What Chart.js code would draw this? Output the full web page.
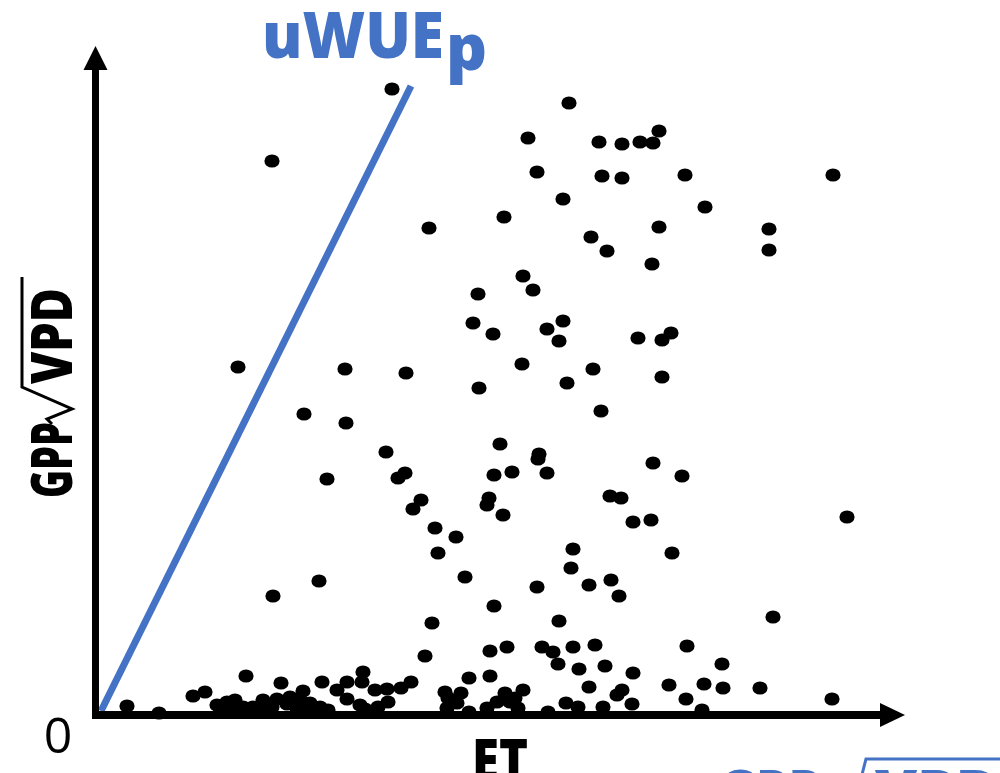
<!DOCTYPE html>
<html lang="en">
<head>
<meta charset="UTF-8">
<title>uWUEp</title>
<script src="https://cdn.jsdelivr.net/npm/chart.js@4.4.0/dist/chart.umd.min.js"></script>
<style>
    body { margin: 0; background: #fff; }
    canvas { display: block; }
</style>
</head>
<body>
<canvas id="chartUwue" width="1000" height="773"></canvas>

<script>
    // ET (x) and GPP*sqrt(VPD) (y), arbitrary units
    const etValues = [
        29.6, 47.3, 43.2, 50.3, 52.6, 54.4, 55.7, 56.3, 17.6, 44.1,
        50.6, 52.6, 58.9, 73.7, 46.7, 60.9, 40.8, 33.3, 49.5, 56.3,
        67.3, 51.1, 67.3, 55.6, 42.7, 38.2, 43.7, 37.7, 39.7, 45.1,
        46.7, 46.3, 54.2, 57.5, 56.6, 14.2, 24.9, 31.0, 42.6, 47.1,
        49.7, 56.6, 38.3, 20.8, 25.0, 50.5, 29.0, 40.4, 44.3, 44.2,
        55.7, 30.9, 30.2, 39.8, 41.6, 45.1, 58.6, 23.1, 32.5, 39.3,
        39.1, 51.4, 52.5, 75.1, 31.7, 40.7, 53.7, 55.5, 33.9, 36.0,
        34.2, 47.7, 57.6, 47.5, 36.9, 49.3, 51.5, 52.3, 22.3, 44.1,
        17.7, 39.8, 33.6, 46.3, 67.7, 39.4, 41.1, 44.6, 45.7, 47.7,
        49.9, 59.1, 32.9, 46.2, 48.3, 50.9, 53.7, 62.6, 26.7, 15.0,
        37.3, 39.4, 49.3, 52.6, 52.1, 57.3, 60.8, 62.7, 66.4, 59.0,
        73.6, 40.9, 41.9, 42.7, 47.0, 48.2, 50.7, 53.6, 45.2, 60.6,
        42.2, 40.1, 39.1, 37.3, 34.9, 36.5, 35.2, 36.1, 35.1, 26.6,
        25.1, 24.1, 25.1, 27.9, 29.1, 30.5, 31.5, 22.6, 20.7, 19.4,
        18.5, 10.9, 9.7, 3.1, 6.3, 12.1, 13.1, 13.9, 14.7, 15.7,
        16.7, 17.6, 18.1, 19.1, 20.4, 21.4, 20.1, 22.4, 23.2, 26.4,
        26.9, 28.2, 29.2, 16.7, 41.4, 13.6, 12.5, 15.2, 21.2
    ];
    const gppValues = [
        62.6, 61.2, 57.7, 57.3, 57.1, 57.3, 57.2, 58.4, 55.4, 54.3,
        53.9, 53.7, 54.0, 54.0, 51.6, 50.8, 49.8, 48.7, 47.8, 48.8,
        48.6, 46.4, 46.5, 45.1, 43.9, 42.1, 42.5, 39.2, 38.1, 38.6,
        39.4, 37.4, 37.7, 38.2, 37.5, 34.8, 34.6, 34.2, 35.1, 33.2,
        34.6, 33.8, 32.7, 30.1, 29.2, 30.4, 26.3, 27.1, 26.1, 25.6,
        25.2, 24.2, 23.7, 24.0, 24.3, 24.2, 23.9, 23.6, 21.5, 21.7,
        21.0, 21.9, 21.7, 19.8, 20.6, 20.0, 19.3, 19.5, 18.7, 17.8,
        16.2, 16.6, 16.2, 14.7, 13.8, 13.0, 13.5, 11.9, 13.4, 12.8,
        11.9, 10.9, 9.2, 9.4, 9.8, 6.4, 6.8, 6.8, 6.3, 6.8,
        7.0, 6.9, 5.9, 5.1, 4.6, 4.9, 4.2, 5.1, 4.3, 3.9,
        3.7, 3.9, 2.8, 2.5, 2.0, 3.0, 3.1, 2.7, 2.7, 1.6,
        1.6, 2.2, 1.7, 2.5, 1.2, 0.8, 0.8, 1.1, 0.3, 0.5,
        0.7, 1.3, 0.7, 0.3, 2.3, 2.2, 1.7, 1.2, 0.7, 3.3,
        3.3, 2.5, 1.6, 2.5, 2.6, 2.7, 3.3, 3.3, 2.4, 1.8,
        3.2, 2.3, 1.9, 0.9, 0.2, 1.0, 1.3, 1.5, 0.8, 0.8,
        1.5, 0.8, 1.6, 1.1, 1.5, 1.2, 0.7, 0.8, 0.5, 1.0,
        0.6, 0.8, 1.3, 0.6, 1.3, 0.9, 0.5, 0.3, 0.3
    ];
    // uWUEp line, two ends
    const uwueEt = [0.5, 31.5];
    const uwueGpp = [0.4, 62.9];

    const azul = '#4472C4';

    // slightly oval dot like the picture
    var bolinha = document.createElement('canvas');
    bolinha.width = 16;
    bolinha.height = 14;
    var bctx = bolinha.getContext('2d');
    bctx.fillStyle = '#000';
    bctx.beginPath();
    bctx.ellipse(8, 7, 7.6, 6.6, 0, 0, Math.PI * 2);
    bctx.fill();

    function raiz(ctx, pts) {
        ctx.beginPath();
        ctx.moveTo(pts[0][0], pts[0][1]);
        for (var i = 1; i < pts.length; i++) ctx.lineTo(pts[i][0], pts[i][1]);
        ctx.stroke();
    }

    const desenho = {
        id: 'desenho',
        afterDraw(chart) {
            const ctx = chart.ctx;
            const ca = chart.chartArea;
            ctx.save();

            // axes with arrows
            ctx.fillStyle = '#000';
            ctx.strokeStyle = '#000';
            ctx.lineWidth = 7;
            ctx.beginPath();
            ctx.moveTo(ca.left - 0.5, ca.bottom + 4);
            ctx.lineTo(ca.left - 0.5, ca.top + 22);
            ctx.stroke();
            ctx.beginPath();
            ctx.moveTo(ca.left - 0.5, ca.top);
            ctx.lineTo(ca.left + 11.5, ca.top + 24);
            ctx.lineTo(ca.left - 12.5, ca.top + 24);
            ctx.closePath();
            ctx.fill();

            ctx.lineWidth = 8;
            ctx.beginPath();
            ctx.moveTo(ca.left - 4, ca.bottom);
            ctx.lineTo(ca.right - 22, ca.bottom);
            ctx.stroke();
            ctx.beginPath();
            ctx.moveTo(ca.right, ca.bottom);
            ctx.lineTo(ca.right - 25, ca.bottom - 12);
            ctx.lineTo(ca.right - 25, ca.bottom + 12);
            ctx.closePath();
            ctx.fill();

            // title of the line
            ctx.fillStyle = azul;
            ctx.textAlign = 'left';
            ctx.textBaseline = 'alphabetic';
            ctx.font = '800 64px "Open Sans"';
            ctx.fillText('uWUE', 262, 58, 182);
            ctx.fillText('p', 446, 70);

            // origin and x title
            ctx.fillStyle = '#000';
            ctx.textAlign = 'center';
            ctx.font = '50px "Open Sans"';
            ctx.fillText('0', 58, 753);
            ctx.textAlign = 'left';
            ctx.font = '800 58px "Open Sans"';
            ctx.fillText('ET', 472, 781, 56);

            // y title, rotated
            ctx.save();
            ctx.translate(72, 498);
            ctx.rotate(-Math.PI / 2);
            ctx.font = '800 56px "Open Sans"';
            ctx.fillText('GPP', 0, 0, 76);
            ctx.fillText('VPD', 114, 0, 96);
            ctx.lineWidth = 3;
            ctx.lineJoin = 'miter';
            raiz(ctx, [[74, -20], [79, -25], [89, 0], [111, -50], [221, -50]]);
            ctx.restore();

            // blue formula cut at the bottom edge
            ctx.fillStyle = azul;
            ctx.strokeStyle = azul;
            ctx.font = '800 62px "Open Sans"';
            ctx.fillText('GPP', 718, 814, 103);
            ctx.fillText('VPD', 875, 814, 125);
            ctx.lineWidth = 3;
            raiz(ctx, [[858, 790], [866, 759], [1000, 759]]);

            ctx.restore();
        }
    };

    var pontos = etValues.map(function (v, i) { return { x: v, y: gppValues[i] }; });
    var linha = uwueEt.map(function (v, i) { return { x: v, y: uwueGpp[i] }; });

    var chartUwue = new Chart(document.getElementById('chartUwue'), {
        type: 'scatter',
        data: {
            datasets: [{
                label: 'uWUEp',
                data: linha,
                showLine: true,
                borderColor: azul,
                borderWidth: 7,
                pointRadius: 0,
                clip: false
            }, {
                label: 'obs',
                data: pontos,
                pointStyle: bolinha,
                pointRadius: 7,
                backgroundColor: '#000',
                borderColor: '#000',
                clip: false
            }]
        },
        options: {
            responsive: false,
            animation: false,
            events: [],
            devicePixelRatio: 1,
            layout: { padding: { left: 96, right: 95, top: 46, bottom: 58 } },
            scales: {
                x: { type: 'linear', min: 0, max: 80.9, display: false },
                y: { type: 'linear', min: 0, max: 66.9, display: false }
            },
            plugins: {
                legend: { display: false },
                tooltip: { enabled: false }
            }
        },
        plugins: [desenho]
    });
</script>
</body>
</html>
